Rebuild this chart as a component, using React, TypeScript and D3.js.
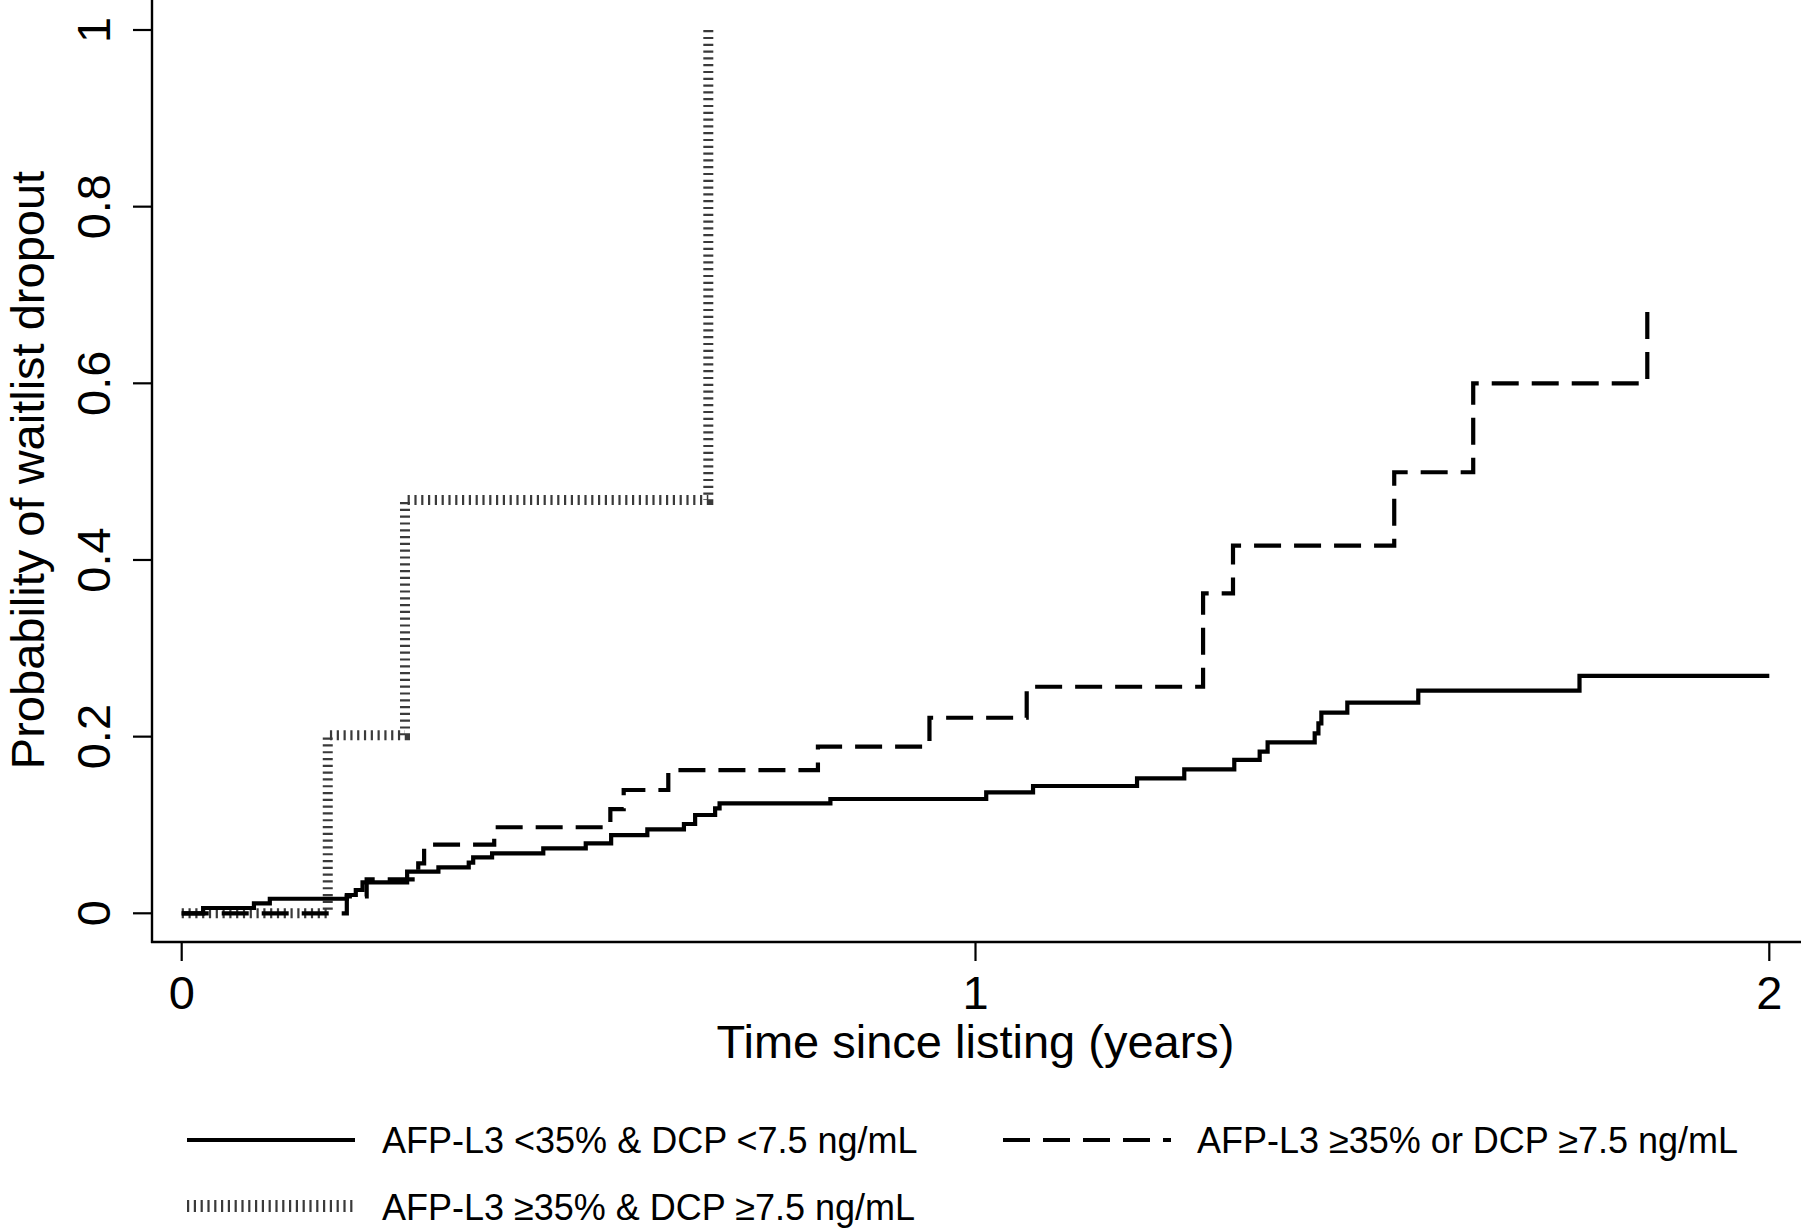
import React from "react";
import * as d3 from "d3";

// ---- data ----
const xTicks = [0, 1, 2];
const yTicks = [0, 0.2, 0.4, 0.6, 0.8, 1];
const yTickLabels = ["0", "0.2", "0.4", "0.6", "0.8", "1"];

// Group 1: AFP-L3 <35% & DCP <7.5 ng/mL (solid)
const lowTimes = [0, 0.027, 0.091, 0.111, 0.208, 0.2193, 0.2278, 0.284, 0.3234, 0.3616, 0.3672, 0.391, 0.4555, 0.509, 0.541, 0.5866, 0.6327, 0.6468, 0.672, 0.6776, 0.8172, 1.0135, 1.0725, 1.2035, 1.263, 1.326, 1.358, 1.368, 1.4273, 1.432, 1.4357, 1.4684, 1.5578, 1.7609, 2.0];
const lowProbs = [0, 0.006, 0.0113, 0.0165, 0.0207, 0.0264, 0.035, 0.0471, 0.052, 0.0573, 0.0634, 0.0679, 0.0736, 0.0792, 0.0886, 0.0951, 0.1011, 0.1113, 0.1189, 0.1245, 0.1294, 0.137, 0.1441, 0.1528, 0.163, 0.1736, 0.183, 0.1936, 0.2038, 0.2151, 0.2271, 0.2384, 0.252, 0.2687, 0.2687];

// Group 2: AFP-L3 >=35% or DCP >=7.5 ng/mL (dashed)
const eitherTimes = [0, 0.208, 0.233, 0.298, 0.3054, 0.3937, 0.54, 0.5568, 0.613, 0.8015, 0.942, 1.0645, 1.2867, 1.3244, 1.5275, 1.627, 1.8463];
const eitherProbs = [0, 0.019, 0.0385, 0.0566, 0.0777, 0.0974, 0.118, 0.1396, 0.1622, 0.1886, 0.2214, 0.2565, 0.3623, 0.4162, 0.4993, 0.6, 0.6855];

// Group 3: AFP-L3 >=35% & DCP >=7.5 ng/mL (hatched)
const bothTimes = [0, 0.184, 0.2813, 0.6634];
const bothProbs = [0, 0.2017, 0.4679, 1.0];

const legendLabels = [
  "AFP-L3 <35% & DCP <7.5 ng/mL",
  "AFP-L3 \u226535% or DCP \u22657.5 ng/mL",
  "AFP-L3 \u226535% & DCP \u22657.5 ng/mL",
];

const xTitle = "Time since listing (years)";
const yTitle = "Probability of waitlist dropout";

const W = 1801;
const H = 1231;
const FONT = "'Liberation Sans', Arial, Helvetica, sans-serif";

const x = d3.scaleLinear().domain([0, 2]).range([181.7, 1769.3]);
const y = d3.scaleLinear().domain([0, 1]).range([913.3, 30]);

const stepLine = d3
  .line<[number, number]>()
  .x((d) => x(d[0]))
  .y((d) => y(d[1]))
  .curve(d3.curveStepAfter);

const zip = (t: number[], p: number[]) => t.map((v, i) => [v, p[i]] as [number, number]);

const SOLID = { stroke: "#000", strokeWidth: 4.2 };
const DASHED = { stroke: "#000", strokeWidth: 4.2, strokeDasharray: "27 13" };
const HATCH = { stroke: "#3a3a3a", strokeWidth: 10, strokeDasharray: "2.2 4.6" };

export default function App() {
  const axisX = 152;
  const axisY = 942;
  return (
    <svg
      width={W}
      height={H}
      viewBox={`0 0 ${W} ${H}`}
      style={{ position: "absolute", left: 0, top: 0, display: "block", background: "#fff" }}
    >
      <rect x={0} y={0} width={W} height={H} fill="#fff" />
      {/* curves */}
      <path d={stepLine(zip(bothTimes, bothProbs)) || ""} fill="none" {...HATCH} />
      <path d={stepLine(zip(eitherTimes, eitherProbs)) || ""} fill="none" {...DASHED} />
      <path d={stepLine(zip(lowTimes, lowProbs)) || ""} fill="none" {...SOLID} />

      {/* axes */}
      <line x1={axisX} y1={0} x2={axisX} y2={axisY + 1} stroke="#000" strokeWidth={2.4} />
      <line x1={axisX - 1} y1={axisY} x2={W} y2={axisY} stroke="#000" strokeWidth={2.4} />
      {yTicks.map((v, i) => (
        <g key={"yt" + i}>
          <line x1={axisX - 19} x2={axisX} y1={y(v)} y2={y(v)} stroke="#000" strokeWidth={2.2} />
          <text
            transform={`translate(110, ${y(v)}) rotate(-90)`}
            textAnchor="middle"
            fontFamily={FONT}
            fontSize={47}
            fill="#000"
          >
            {yTickLabels[i]}
          </text>
        </g>
      ))}
      {xTicks.map((v, i) => (
        <g key={"xt" + i}>
          <line x1={x(v)} x2={x(v)} y1={axisY} y2={axisY + 19} stroke="#000" strokeWidth={2.2} />
          <text x={x(v)} y={1009} textAnchor="middle" fontFamily={FONT} fontSize={47} fill="#000">
            {String(v)}
          </text>
        </g>
      ))}
      <text x={x(1)} y={1058} textAnchor="middle" fontFamily={FONT} fontSize={47} fill="#000">
        {xTitle}
      </text>
      <text
        transform={`translate(44, 470) rotate(-90)`}
        textAnchor="middle"
        fontFamily={FONT}
        fontSize={47}
        fill="#000"
      >
        {yTitle}
      </text>

      {/* legend */}
      <line x1={187} x2={355} y1={1140} y2={1140} fill="none" {...SOLID} />
      <text x={382} y={1153} fontFamily={FONT} fontSize={36} fill="#000">
        {legendLabels[0]}
      </text>
      <line x1={1003} x2={1171} y1={1140} y2={1140} fill="none" {...DASHED} />
      <text x={1197} y={1153} fontFamily={FONT} fontSize={36} fill="#000">
        {legendLabels[1]}
      </text>
      <line x1={187} x2={355} y1={1206} y2={1206} fill="none" {...HATCH} strokeWidth={12} />
      <text x={382} y={1220} fontFamily={FONT} fontSize={36} fill="#000">
        {legendLabels[2]}
      </text>
    </svg>
  );
}
